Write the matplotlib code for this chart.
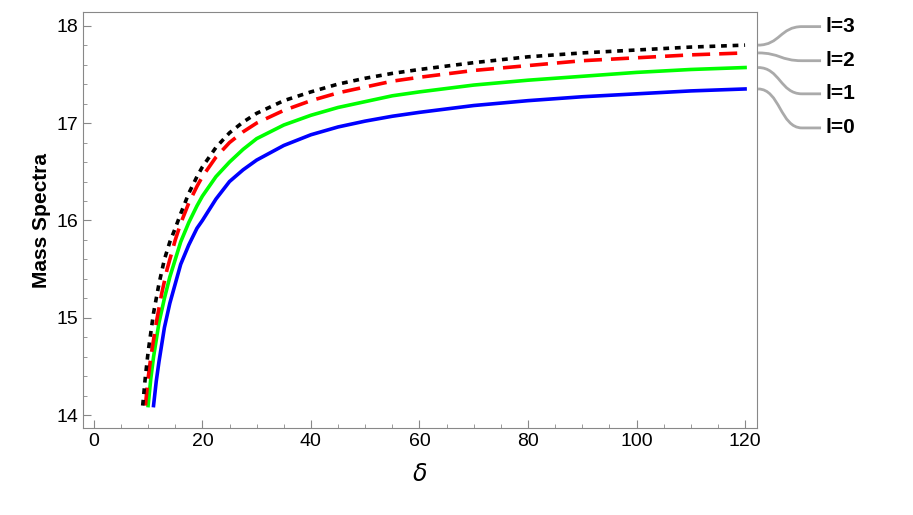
import numpy as np
import matplotlib.pyplot as plt
from matplotlib.path import Path
from matplotlib.patches import PathPatch

plt.rcParams['font.family'] = 'Liberation Sans'

x_l0 = [11, 11.5, 12, 13, 14, 15, 16, 17.5, 19, 20, 22.5, 25, 27.5, 30, 35, 40, 45, 50, 55, 60, 70, 80, 90, 100, 110, 120]
y_l0 = [14.1, 14.35, 14.55, 14.9, 15.15, 15.35, 15.55, 15.75, 15.92, 16.0, 16.22, 16.4, 16.52, 16.62, 16.77, 16.88, 16.96, 17.02, 17.07, 17.11, 17.18, 17.23, 17.27, 17.3, 17.33, 17.35]
x_l1 = [10, 10.5, 11, 12, 13, 14, 15, 16, 17.5, 19, 20, 22.5, 25, 27.5, 30, 35, 40, 45, 50, 55, 60, 70, 80, 90, 100, 110, 120]
y_l1 = [14.1, 14.38, 14.6, 14.95, 15.2, 15.42, 15.6, 15.78, 15.98, 16.15, 16.25, 16.45, 16.6, 16.73, 16.84, 16.98, 17.08, 17.16, 17.22, 17.28, 17.32, 17.39, 17.44, 17.48, 17.52, 17.55, 17.57]
x_l2 = [9.5, 10, 10.5, 11.5, 12.5, 13.5, 15, 16, 17.5, 19, 20, 22.5, 25, 27.5, 30, 35, 40, 45, 50, 55, 60, 70, 80, 90, 100, 110, 120]
y_l2 = [14.1, 14.38, 14.6, 14.95, 15.25, 15.5, 15.8, 15.97, 16.18, 16.35, 16.45, 16.65, 16.8, 16.91, 17.0, 17.13, 17.23, 17.31, 17.37, 17.43, 17.47, 17.54, 17.59, 17.64, 17.67, 17.7, 17.72]
x_l3 = [9, 9.5, 10, 11, 12, 13, 14, 15, 16, 17.5, 19, 20, 22.5, 25, 27.5, 30, 35, 40, 45, 50, 55, 60, 70, 80, 90, 100, 110, 120]
y_l3 = [14.1, 14.4, 14.65, 15.05, 15.35, 15.6, 15.78, 15.92, 16.07, 16.28, 16.45, 16.55, 16.75, 16.9, 17.01, 17.1, 17.23, 17.32, 17.4, 17.46, 17.51, 17.55, 17.62, 17.68, 17.72, 17.75, 17.78, 17.8]
labels = ['l=0', 'l=1', 'l=2', 'l=3']
label_y = [16.95, 17.30, 17.64, 17.99]

fig = plt.figure(figsize=(9.13, 5.15), dpi=100)
ax = fig.add_axes([83/913, 87/515, 674/913, 416/515])
ax.plot(x_l0, y_l0, color='#0000ff', lw=2.6)
ax.plot(x_l1, y_l1, color='#00ff00', lw=2.6)
ax.plot(x_l2, y_l2, color='#ff0000', lw=2.6, dashes=(5, 2.5))
ax.plot(x_l3, y_l3, color='black', lw=2.6, dashes=(1.6, 1.6))

ax.set_xlim(-2, 122.2)
ax.set_ylim(13.87, 18.14)
ax.set_xticks(range(0, 121, 20))
ax.set_yticks([14, 15, 16, 17, 18])
ax.set_xticks(range(0, 121, 5), minor=True)
ax.set_yticks(np.arange(14, 18.01, 0.2), minor=True)
ax.tick_params(labelsize=14, direction='in', length=6, color='#888888')
ax.tick_params(which='minor', direction='in', length=3, color='#888888')
for s in ax.spines.values():
    s.set_color('#888888')
ax.set_xlabel(r'$\delta$', fontsize=17, labelpad=10)
ax.set_ylabel('Mass Spectra', fontsize=15, fontweight='bold')

ends = [y_l0[-1], y_l1[-1], y_l2[-1], y_l3[-1]]
for lab, ye, yl in zip(labels, ends, label_y):
    x0, x1 = 122.4, 130.5
    verts = [(x0, ye), (x0 + 4, ye), (x1 - 4, yl), (x1, yl), (x1 + 3.5, yl)]
    path = Path(verts, [Path.MOVETO, Path.CURVE4, Path.CURVE4, Path.CURVE4, Path.LINETO])
    ax.add_patch(PathPatch(path, fc='none', ec='#aaaaaa', lw=2, clip_on=False))
    ax.text(x1 + 4.3, yl, lab, fontsize=15, fontweight='bold', va='center', ha='left', clip_on=False)

fig.savefig('out.png', dpi=100)
